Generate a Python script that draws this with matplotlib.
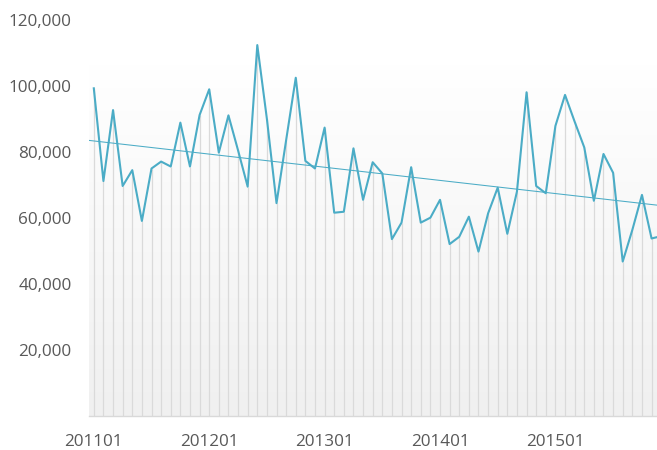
import numpy as np
import matplotlib.pyplot as plt
from matplotlib.colors import LinearSegmentedColormap

plt.rcParams['font.family'] = ['Open Sans', 'DejaVu Sans']

# monthly values 201101 .. 201512
months = [f"{y}{m:02d}" for y in range(2011, 2016) for m in range(1, 13)]
values = [
    99300, 71200, 92700, 69700, 74500, 59100, 75000, 77100, 75600, 88900, 75600, 91200,
    99000, 79800, 91100, 80500, 69500, 112400, 90000, 64500, 83600, 102500, 77300, 75000,
    87400, 61600, 61900, 81100, 65500, 76900, 73500, 53600, 58600, 75400, 58600, 60100,
    65500, 52100, 54300, 60400, 49800, 61400, 69200, 55200, 68000, 98100, 69700, 67500,
    87900, 97300, 89200, 81400, 65200, 79400, 73700, 46800, 56400, 67000, 53800, 54500,
]
tick_labels = ["201101", "201201", "201301", "201401", "201501"]
y_ticks = [20000, 40000, 60000, 80000, 100000, 120000]

x = np.arange(len(values))
vals = np.array(values)

fig = plt.figure(figsize=(6.57, 4.5), dpi=100)
ax = fig.add_axes([89 / 657, 34 / 450, 577 / 657, 396 / 450])

# plot area gradient
cmap = LinearSegmentedColormap.from_list("bg", ["#f0f0f0", "#ffffff"])
grad = np.linspace(0, 1, 256).reshape(-1, 1)
ax.imshow(grad, cmap=cmap, aspect="auto", origin="lower",
          extent=(-0.5, len(values) - 0.5, 0, 106500), zorder=0)

# drop lines
ax.vlines(x, 0, vals, color="#dadada", lw=0.9, zorder=1)

ax.plot(x, vals, color="#4bacc6", lw=1.5, zorder=3)

# linear trend
k, b = np.polyfit(x, vals, 1)
ax.plot([-0.5, len(values) - 0.5], [k * -0.5 + b, k * (len(values) - 0.5) + b],
        color="#4bacc6", lw=0.75, zorder=2)

ax.set_xlim(-0.5, len(values) - 0.5)
ax.set_ylim(0, 120000)
ax.set_yticks(y_ticks)
ax.set_yticklabels([f"{v:,}" for v in y_ticks])
ax.set_xticks([months.index(t) for t in tick_labels])
ax.set_xticklabels(tick_labels)
ax.tick_params(length=0, labelsize=12.3, labelcolor="#595959")
ax.tick_params(axis="y", pad=12.5)
ax.tick_params(axis="x", pad=13)

for s in ["top", "right", "left"]:
    ax.spines[s].set_visible(False)
ax.spines["bottom"].set_color("#d9d9d9")
ax.spines["bottom"].set_linewidth(1)
ax.patch.set_visible(False)

fig.savefig("out.png", dpi=100)
